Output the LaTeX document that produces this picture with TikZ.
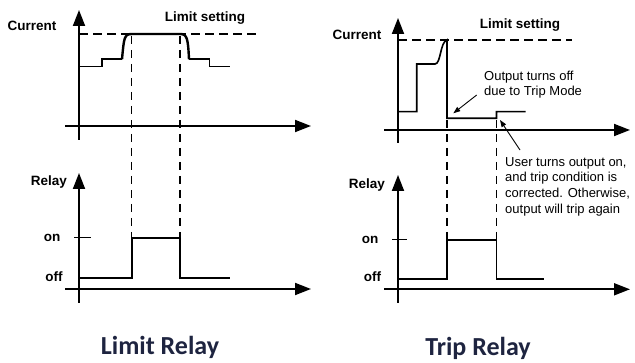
\documentclass[tikz,border=0pt]{standalone}
\usepackage{fontspec}
\setmainfont{Liberation Sans}
\newfontfamily\titlefont{Carlito}
\usetikzlibrary{arrows.meta}
\definecolor{titleblue}{RGB}{30,36,64}
\tikzset{
  axis/.style={line width=1.8pt,-{Triangle[length=16pt,width=12pt]}},
  wave/.style={line width=1.6pt,line join=miter},
  limitline/.style={line width=1.4pt,dash pattern=on 9pt off 5pt},
  guide/.style={line width=1.5pt,dash pattern=on 8pt off 6pt},
  lbl/.style={font=\fontsize{13.5}{15}\selectfont\bfseries,inner sep=0pt},
  note/.style={font=\fontsize{13}{15.6}\selectfont,align=left,inner sep=0pt,anchor=west},
  pointer/.style={line width=0.9pt,-{Triangle[length=7pt,width=5pt]}},
  caption/.style={font=\titlefont\fontsize{26}{30}\selectfont\bfseries,text=titleblue,inner sep=0pt}
}
\begin{document}
\begin{tikzpicture}[x=1pt,y=-1pt]
  \useasboundingbox (0,0) rectangle (635,363);

  % axes: x origin / current y-axis top / current x-axis / relay top
  \foreach \ox/\ctop/\cbot/\cx/\rtop/\rx in {79/10/140/126/173/289,398/18/143/130/175/289.3}
    {\draw[axis] (\ox,\cbot) -- (\ox,\ctop);
     \draw[axis] (\ox-14,\cx) -- (\ox+232,\cx);
     \draw[axis] (\ox,303) -- (\ox,\rtop);
     \draw[axis] (\ox-14,\rx) -- (\ox+232,\rx);}

  % limit relay
  \draw[limitline] (79,34) -- (257,34);
  \node[lbl] (curA) at (32,26) {Current};
  \node[lbl] (limA) at (205,18) {Limit setting};
  \draw[wave] (79,66.7) -- (101.7,66.7) -- (101.7,59.3) -- (122,59.3);
  \draw[line width=2.4pt] (122,59.3) .. controls (124,38) and (124,34) .. (132,34)
    -- (180,34) .. controls (187,34) and (188,38) .. (189,59.3);
  \draw[wave] (189,59.3) -- (209.3,59.3) -- (209.3,66.7) -- (230,66.7);
  \foreach \gx in {131.7,180}
    \draw[guide] (\gx,36) -- (\gx,238);
  \node[lbl,anchor=east] (relA) at (67,182) {Relay};
  \draw[line width=1pt] (74,238) -- (91,238);
  \node[lbl] (onA) at (52,238) {on};
  \node[lbl] (offA) at (54,277) {off};
  \draw[wave] (79,278) -- (131.7,278) -- (131.7,238) -- (180,238) -- (180,278) -- (230,278);
  \node[caption] (capA) at (160,347) {Limit Relay};

  % trip relay
  \draw[limitline] (398,40) -- (572,40);
  \node[lbl] (curB) at (357,35) {Current};
  \node[lbl] (limB) at (520,25) {Limit setting};
  \draw[wave] (398,111.7) -- (416.7,111.7) -- (416.7,64) -- (435,64)
    .. controls (441,64) and (440,42) .. (447,40) -- (447,118.3)
    -- (496.5,118.3) -- (496.5,111.7) -- (525.7,111.7);
  \foreach \gx in {447,496.5}
    \draw[guide] (\gx,120) -- (\gx,240);
  \node[lbl,anchor=east] (relB) at (385,185) {Relay};
  \draw[line width=1pt] (392,240) -- (407,240);
  \node[lbl] (onB) at (370,240) {on};
  \node[lbl] (offB) at (372.5,277) {off};
  \draw[wave] (398,279) -- (447,279) -- (447,240) -- (496.5,240) -- (496.5,279) -- (544,279);
  \node[caption] (capB) at (478,348) {Trip Relay};

  % notes
  \node[note] (tripnote) at (484,84.7) {Output turns off\\due to Trip Mode};
  \node[note] (usernote) at (505,186.5) {User turns output on,\\and trip condition is\\corrected. Otherwise,\\output will trip again};
  \coordinate (tripfrom) at (476.7,95);
  \coordinate (tripto) at (453.3,113.3);
  \coordinate (userfrom) at (520,150);
  \coordinate (userto) at (500,120);
  \draw[pointer] (tripfrom) -- (tripto);
  \draw[pointer] (userfrom) -- (userto);
\end{tikzpicture}
\end{document}
